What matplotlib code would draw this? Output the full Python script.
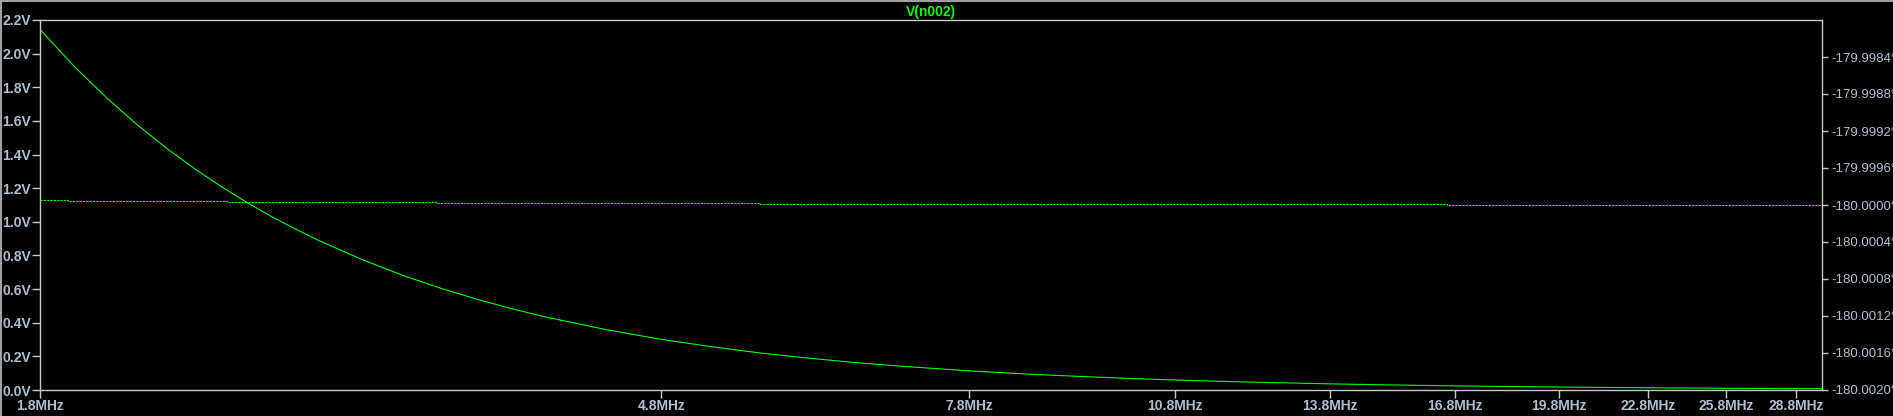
import matplotlib
matplotlib.use("Agg")
import matplotlib.pyplot as plt
from matplotlib.lines import Line2D

# dados (frequência em MHz)
freq_mag = [1.8, 1.9, 2.0, 2.1, 2.2, 2.3, 2.4, 2.5, 2.6, 2.7, 2.8, 3.0, 3.2,
            3.4, 3.6, 3.8, 4.0, 4.4, 4.8, 5.2, 5.6, 6.0, 6.5, 7.0, 7.8, 8.5,
            9.0, 10.0, 10.8, 12.0, 13.8, 15.0, 16.8, 18.0, 19.8, 21.0, 22.8,
            24.0, 25.8, 27.0, 28.8, 30.0]
mag_v = [2.144, 1.924, 1.737, 1.575, 1.435, 1.313, 1.206, 1.111, 1.027, 0.953,
         0.886, 0.772, 0.678, 0.601, 0.536, 0.481, 0.434, 0.359, 0.301, 0.257,
         0.221, 0.193, 0.164, 0.142, 0.114, 0.0961, 0.0858, 0.0695, 0.0596,
         0.0482, 0.0365, 0.0309, 0.0246, 0.0214, 0.0177, 0.0158, 0.0134,
         0.0121, 0.0104, 0.0095, 0.0084, 0.0077]

freq_fase = [1.8, 1.88, 2.42, 3.37, 5.61, 16.6, 30.0]
fase_graus = [-179.999946, -179.999957, -179.999968, -179.999978,
              -179.999989, -180.000000, -180.000000]

xticks = [1.8, 4.8, 7.8, 10.8, 13.8, 16.8, 19.8, 22.8, 25.8, 28.8]
yticks_v = [0.0, 0.2, 0.4, 0.6, 0.8, 1.0, 1.2, 1.4, 1.6, 1.8, 2.0, 2.2]
yticks_fase = [-180.0020, -180.0016, -180.0012, -180.0008, -180.0004,
               -180.0000, -179.9996, -179.9992, -179.9988, -179.9984]

cor_texto = "#b0bfcf"
cor_eixo = "#c8c8c8"
verde = "#00ff00"

plt.rcParams["font.family"] = ["Liberation Sans", "DejaVu Sans"]

W, H = 1893, 416
fig = plt.figure(figsize=(W / 100, H / 100), dpi=100, facecolor="black")
ax = fig.add_axes([40 / W, 26 / H, 1782 / W, 370 / H], facecolor="black")

ax.plot(freq_mag, mag_v, color=verde, linewidth=0.8)
ax.set_xscale("log")
ax.set_xlim(1.8, 30.0)
ax.set_ylim(0.0, 2.2)

ax.set_xticks(xticks)
ax.set_xticklabels([f"{x:.1f}MHz" for x in xticks])
ax.minorticks_off()
ax.set_yticks(yticks_v)
ax.set_yticklabels([f"{v:.1f}V" for v in yticks_v])

for s in ax.spines.values():
    s.set_color(cor_eixo)
    s.set_linewidth(1)

ax.tick_params(axis="both", colors=cor_eixo, length=5.5, width=1,
               labelcolor=cor_texto, labelsize=10, pad=1)
for lbl in ax.get_xticklabels() + ax.get_yticklabels():
    lbl.set_fontweight("bold")

ax2 = ax.twinx()
ax2.plot(freq_fase, fase_graus, color=verde, linewidth=0.8,
         linestyle=(0, (2, 1)), drawstyle="steps-post")
ax2.set_ylim(-180.0020, -179.9980)
ax2.set_yticks(yticks_fase)
ax2.set_yticklabels([f"{v:.4f}°" for v in yticks_fase])
ax2.tick_params(axis="y", colors=cor_eixo, length=4.5, width=1,
                labelcolor=cor_texto, labelsize=9.5, pad=2)
for s in ax2.spines.values():
    s.set_visible(False)

ax.set_title("V(n002)", color=verde, fontsize=10, fontweight="bold", pad=3)

# borda da janela
fig.add_artist(Line2D([0, 1], [1 - 0.5 / H, 1 - 0.5 / H], color="#a0a0a0",
                      linewidth=1.5, transform=fig.transFigure))
fig.add_artist(Line2D([0.5 / W, 0.5 / W], [0, 1], color="#a0a0a0",
                      linewidth=1.5, transform=fig.transFigure))

fig.savefig("out.png", dpi=100, facecolor="black")
